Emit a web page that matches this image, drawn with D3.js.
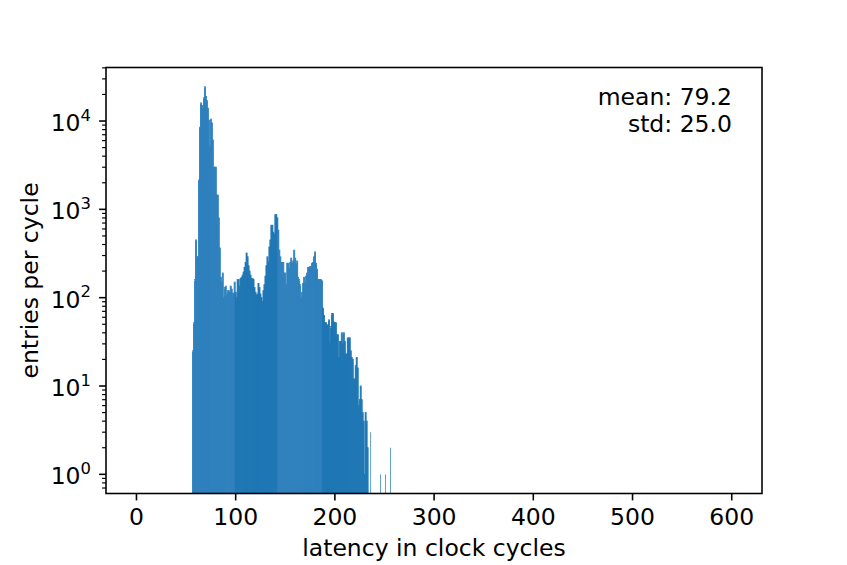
<!DOCTYPE html>
<html>
<head>
<meta charset="utf-8">
<script src="https://cdn.jsdelivr.net/npm/d3@7"></script>
<style>
body { margin: 0; background: #fff; }
text { font-family: "DejaVu Sans", sans-serif; }
</style>
</head>
<body>
<script>
// histogram of latency, one bin per clock cycle, starting at cycle 57
var firstBin = 57;
var counts = [
  25, 52, 160, 450, 290, 290, 2150, 8500, 16000, 15000,
  14000, 18300, 24400, 19000, 17000, 14000, 10200, 5200, 10500, 9500,
  6100, 3000, 3000, 3000, 1450, 1450, 800, 365, 170, 150,
  190, 100, 130, 135, 107, 120, 120, 115, 135, 125,
  112, 112, 150, 115, 100, 160, 160, 135, 165, 170,
  180, 195, 220, 250, 320, 290, 230, 200, 180, 165,
  165, 160, 130, 115, 107, 110, 145, 130, 110, 100,
  90, 120, 140, 175, 230, 290, 255, 375, 450, 660,
  660, 550, 520, 870, 870, 800, 580, 345, 290, 250,
  250, 250, 190, 190, 140, 245, 245, 215, 250, 280,
  245, 260, 345, 280, 240, 260, 170, 160, 140, 100,
  115, 145, 170, 145, 175, 190, 220, 220, 225, 225,
  245, 250, 290, 330, 245, 210, 160, 160, 160, 160,
  155, 76, 63, 52, 52, 49, 49, 56, 30, 47,
  66, 66, 53, 52, 52, 38, 38, 21, 32, 32,
  40, 30, 40, 32, 23, 23, 35, 35, 35, 25,
  21, 20, 12, 12, 17, 21, 16, 6, 7, 10,
  7, 5, 4, 1, 5, 4, 2, 0, 0, 3,
  0, 0, 0, 0, 0, 0, 0, 0, 0, 1,
  0, 0, 0, 0, 1, 0, 0, 0, 0, 2
];
var xTicks = [0, 100, 200, 300, 400, 500, 600];
var yDecades = [0, 1, 2, 3, 4];
var statLines = ["mean: 79.2", "std: 25.0"];

var bins = counts.map(function(c, i) { return { x0: firstBin + i, x1: firstBin + i + 1, n: c }; })
  .filter(function(d) { return d.n > 0; });

var W = 847, H = 565;
// note: "top" is taken by window.top, so the plot box uses its own names
var plotL = 106, plotR = 762, plotT = 67.5, plotB = 493.5;
var fs = 23.5;

var svg = d3.select("body").append("svg")
  .attr("width", W)
  .attr("height", H);

var x = d3.scaleLinear().domain([-30.2, 631]).range([plotL, plotR]);
var y = d3.scaleLog().domain([Math.pow(10, -0.217), Math.pow(10, 4.606)]).range([plotB, plotT]);

// the shade bands come from how the thin bars were rasterised in the original
function barFill(d) {
  if (d.x0 >= 234) return "#5e9ecf";
  if (d.x0 < 100 || (d.x0 >= 143 && d.x0 < 188)) return "#2f81bd";
  return "#1f77b4";
}

svg.append("g").selectAll("rect")
  .data(bins)
  .enter()
  .append("rect")
  .attr("x", function(d) { return x(d.x0); })
  .attr("y", function(d) { return y(d.n); })
  .attr("width", function(d) { return x(d.x1) - x(d.x0); })
  .attr("height", function(d) { return plotB - y(d.n); })
  .attr("fill", barFill)
  // neighbouring bars overlap a little so no white seams show between them
  .attr("stroke", function(d) { return d.x0 < 234 ? barFill(d) : "none"; })
  .attr("stroke-width", 0.9);

// x axis
var xAxis = svg.append("g")
  .attr("transform", "translate(0," + plotB + ")")
  .call(d3.axisBottom(x).tickValues(xTicks).tickSize(6.9).tickPadding(6.9).tickFormat(d3.format("d")));
xAxis.select(".domain").remove();
xAxis.selectAll("line").attr("stroke", "#000").attr("stroke-width", 1.57);
xAxis.selectAll("text").attr("font-size", fs).attr("fill", "#000")
  .attr("font-family", "DejaVu Sans").attr("dy", "0.76em");

// y axis, minor ticks first
var minor = [];
for (var e = -1; e <= 4; e++) {
  for (var m = 2; m <= 9; m++) {
    var v = m * Math.pow(10, e);
    if (v >= y.domain()[0] && v <= y.domain()[1]) minor.push(v);
  }
}
svg.append("g").selectAll("line")
  .data(minor)
  .enter()
  .append("line")
  .attr("x1", plotL - 3.9).attr("x2", plotL)
  .attr("y1", function(d) { return y(d); })
  .attr("y2", function(d) { return y(d); })
  .attr("stroke", "#000").attr("stroke-width", 1.18);

var yAxis = svg.append("g").attr("transform", "translate(" + plotL + ",0)");
yAxis.selectAll("line")
  .data(yDecades)
  .enter()
  .append("line")
  .attr("x1", -6.9).attr("x2", 0)
  .attr("y1", function(d) { return y(Math.pow(10, d)); })
  .attr("y2", function(d) { return y(Math.pow(10, d)); })
  .attr("stroke", "#000").attr("stroke-width", 1.57);

var yLab = yAxis.selectAll("text")
  .data(yDecades)
  .enter()
  .append("text")
  .attr("x", -15)
  .attr("y", function(d) { return y(Math.pow(10, d)) + 10; })
  .attr("text-anchor", "end")
  .attr("font-size", fs);
yLab.append("tspan").text("10");
yLab.append("tspan").attr("dy", -10.5).attr("font-size", fs * 0.7).text(function(d) { return d; });

// frame
svg.append("rect")
  .attr("x", plotL).attr("y", plotT)
  .attr("width", plotR - plotL).attr("height", plotB - plotT)
  .attr("fill", "none").attr("stroke", "#000").attr("stroke-width", 1.57);

// labels
svg.append("text")
  .attr("x", (plotL + plotR) / 2).attr("y", 556)
  .attr("text-anchor", "middle").attr("font-size", fs)
  .text("latency in clock cycles");

svg.append("text")
  .attr("transform", "translate(38," + (plotT + plotB) / 2 + ") rotate(-90)")
  .attr("text-anchor", "middle").attr("font-size", fs)
  .text("entries per cycle");

svg.append("g").selectAll("text")
  .data(statLines)
  .enter()
  .append("text")
  .attr("x", 732)
  .attr("y", function(d, i) { return 105 + i * 27; })
  .attr("text-anchor", "end").attr("font-size", fs)
  .text(function(d) { return d; });
</script>
</body>
</html>
